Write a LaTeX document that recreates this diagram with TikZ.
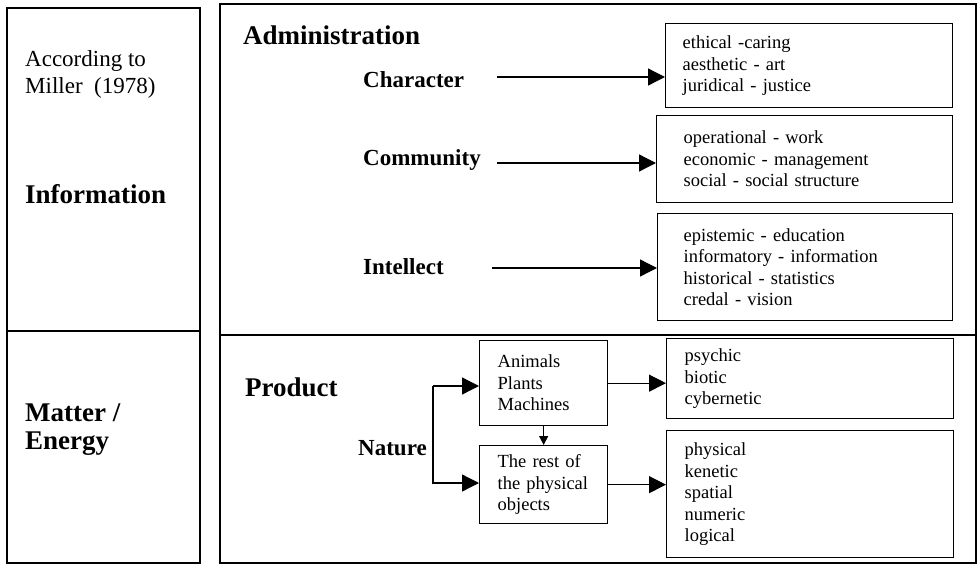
\documentclass[tikz,border=0pt]{standalone}
\usepackage{fontspec}
\setmainfont{Liberation Serif}
\usetikzlibrary{arrows.meta}
\tikzset{
  frame/.style={line width=1.3pt},
  txtbox/.style={draw, line width=1.3pt, anchor=north west, align=left, inner ysep=0pt,
    font=\fontsize{18.5}{21.5}\selectfont},
  biglabel/.style={anchor=west, inner sep=0pt, align=left, font=\fontsize{27}{28}\selectfont\bfseries},
  midlabel/.style={anchor=west, inner sep=0pt, align=left, font=\fontsize{23}{27}\selectfont\bfseries},
  reglabel/.style={anchor=west, inner sep=0pt, align=left, font=\fontsize{23}{27}\selectfont},
  arr/.style={line width=1.3pt, -{Triangle[length=17pt,width=17pt]}},
  smallarr/.style={line width=1.3pt, -{Triangle[length=9pt,width=9pt]}}
}
\begin{document}
\begin{tikzpicture}[x=1pt,y=-1pt]
\useasboundingbox (0,0) rectangle (978,565);
% left frame
\draw[frame] (7,8) rectangle (200,563);
\draw[frame] (7,331) -- (200,331);
% right frame
\draw[frame] (220,4) rectangle (976,563);
\draw[frame] (220,335) -- (976,335);

% left labels
\node[reglabel] (miller) at (25,74) {According to\\Miller\ \ (1978)};
\node[biglabel] (info) at (25,194) {Information};
\node[biglabel] (matter) at (25,430) {Matter /\\Energy};

% administration
\node[biglabel] (admin) at (243,35) {Administration};
\node[midlabel] (char) at (363,80) {Character};
\node[midlabel] (comm) at (363,160) {Community};
\node[midlabel] (intel) at (363,267) {Intellect};

\node[txtbox, minimum height=84pt, inner xsep=17pt, text width=253pt] (b1) at (665,23)
  {ethical -caring\\aesthetic - art\\juridical - justice};
\node[txtbox, minimum height=87pt, inner xsep=27pt, text width=242pt] (b2) at (656,115)
  {operational - work\\economic - management\\social - social structure};
\node[txtbox, minimum height=107pt, inner xsep=26pt, text width=243pt] (b3) at (657,213)
  {epistemic - education\\informatory - information\\historical - statistics\\credal - vision};

\coordinate (c1) at (497,77);
\coordinate (c2) at (497,163);
\coordinate (c3) at (492,268);
\draw[arr] (c1) -- (c1 -| b1.west);
\draw[arr] (c2) -- (c2 -| b2.west);
\draw[arr] (c3) -- (c3 -| b3.west);

% product
\node[biglabel] (prod) at (245,387) {Product};
\node[midlabel] (nature) at (358,448) {Nature};
\node[txtbox, minimum height=85pt, inner xsep=18pt, text width=92pt] (an) at (479,340)
  {Animals\\Plants\\Machines};
\node[txtbox, minimum height=78pt, inner xsep=18pt, text width=92pt] (rest) at (479,445)
  {The rest of\\the physical\\objects};
\node[txtbox, minimum height=80pt, inner xsep=18pt, text width=251pt] (ps) at (666,338)
  {psychic\\biotic\\cybernetic};
\node[txtbox, minimum height=127pt, inner xsep=18pt, text width=251pt] (ph) at (666,430)
  {physical\\kenetic\\spatial\\numeric\\logical};

\coordinate (nt) at (433,386);
\coordinate (nb) at (433,483);
\draw[arr] (nt) -- (nt -| an.west);
\draw[arr] (nt) -- (nb) -- (nb -| rest.west);
\draw[smallarr] (an.south) -- (rest.north);
\draw[arr] (an.east) -- (an.east -| ps.west);
\draw[arr] (rest.east) -- (rest.east -| ph.west);
\end{tikzpicture}
\end{document}
